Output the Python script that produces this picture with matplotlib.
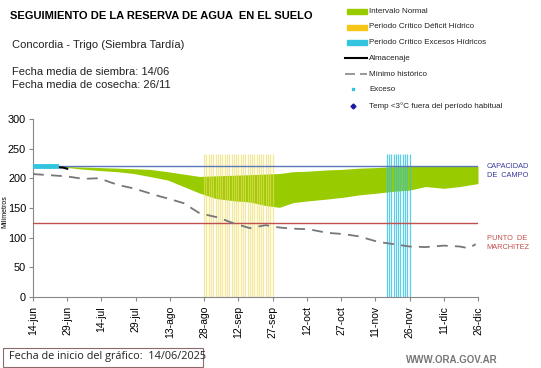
import matplotlib
matplotlib.use("Agg")
import matplotlib.pyplot as plt
from matplotlib.lines import Line2D
from matplotlib.patches import Rectangle

plt.rcParams["font.family"] = ["Liberation Sans", "DejaVu Sans"]

# ----------------------------
# Data (days since 14-jun)
# ----------------------------
tick_days = list(range(0, 196, 15))
tick_labels = ["14-jun", "29-jun", "14-jul", "29-jul", "13-ago", "28-ago", "12-sep",
               "27-sep", "12-oct", "27-oct", "11-nov", "26-nov", "11-dic", "26-dic"]

band_days = [13, 20, 29, 37, 44, 51, 59, 66, 73, 80, 88, 95, 102, 108, 114, 121,
             129, 136, 143, 151, 158, 165, 172, 180, 187, 195]
band_upper = [220, 219, 218, 217, 216, 215, 211, 207, 203, 204, 205, 206, 207, 208,
              211, 212, 214, 215, 217, 218, 219.5, 220, 220, 220, 220, 220]
band_lower = [219, 216, 213, 211, 208, 203, 197, 186, 175, 166, 162, 160, 154, 151,
              159, 162, 165, 168, 172, 175, 178, 180, 186, 183, 186, 191]

min_days = [0, 8, 15, 22, 29, 34, 38, 44, 50, 56, 59, 66, 73, 81, 88, 95, 102, 108,
            114, 121, 129, 136, 143, 151, 158, 165, 172, 180, 187, 191, 194]
min_hist = [207, 205, 203, 199, 200, 193, 188, 183, 176, 169, 166, 158, 141, 134,
            124, 116, 121, 117, 115, 114, 108, 106, 102, 93, 89, 85, 84, 86.5, 85, 82, 89]

alm_days = [0, 5, 10, 11, 12, 13, 14, 15]
almacenaje = [220, 220, 220, 219, 218, 218, 217, 216]
exceso_days = [0, 2, 4, 6, 8, 10]
exceso = [220, 220, 220, 220, 220, 220]

deficit_days = list(range(75, 106))
excesos_crit_days = list(range(155, 166))
crit_height = 240

capacidad = 220
marchitez = 125

# ----------------------------
# Figure
# ----------------------------
fig = plt.figure(figsize=(5.41, 3.68), dpi=100)
ax = fig.add_axes([0.061, 0.193, 0.8225, 0.484])

ax.fill_between(band_days, band_lower, band_upper, color="#99cc00", lw=0, zorder=1)
ax.vlines(deficit_days, 0, crit_height, lw=0.9, color="#eedc60", alpha=0.65, zorder=2)
ax.vlines(excesos_crit_days, 0, crit_height, lw=0.9, color="#33c4e0", alpha=0.8, zorder=2)

ax.axhline(capacidad, color="#5a78b8", lw=1.0, zorder=3)
ax.axhline(marchitez, color="#c0504d", lw=1.0, zorder=3)

ax.plot(min_days, min_hist, color="#777777", lw=1.3, dashes=(6, 4), zorder=4)
ax.plot(alm_days, almacenaje, color="black", lw=1.5, zorder=5)
ax.plot(exceso_days, exceso, color="#33c4e0", lw=3.5, zorder=6)

ax.set_xlim(0, 195)
ax.set_ylim(0, 300)
ax.set_xticks(tick_days)
ax.set_xticklabels(tick_labels, rotation=90, fontsize=7.5)
ax.set_yticks(range(0, 301, 50))
ax.tick_params(axis="y", labelsize=7.8, length=3, pad=2, color="#888888")
ax.tick_params(axis="x", length=3, color="#888888")
for s in ["top", "right"]:
    ax.spines[s].set_visible(False)
for s in ["left", "bottom"]:
    ax.spines[s].set_color("#888888")
ax.set_ylabel("Milímetros", fontsize=5, va="center")
ax.yaxis.set_label_coords(-0.064, 0.48)

# right-side labels
ax.text(1.02, capacidad - 7, "CAPACIDAD\nDE  CAMPO", transform=ax.get_yaxis_transform(),
        fontsize=5.3, color="#3a3aa0", va="center", ha="left", linespacing=1.4)
ax.text(1.02, 91, "PUNTO  DE\nMARCHITEZ", transform=ax.get_yaxis_transform(),
        fontsize=5.3, color="#c0504d", va="center", ha="left", linespacing=1.4)

# ----------------------------
# Header text
# ----------------------------
W, H = 541, 368
def fx(px):
    return px / W
def fy(py):
    return 1 - py / H

fig.text(fx(10), fy(16), "SEGUIMIENTO DE LA RESERVA DE AGUA  EN EL SUELO",
         fontsize=8, fontweight="bold", va="center")
fig.text(fx(12), fy(45), "Concordia - Trigo (Siembra Tardía)", fontsize=8, va="center",
         color="#222222")
fig.text(fx(12), fy(72), "Fecha media de siembra: 14/06", fontsize=8, va="center",
         color="#222222")
fig.text(fx(12), fy(85), "Fecha media de cosecha: 26/11", fontsize=8, va="center",
         color="#222222")

# ----------------------------
# Legend (manual)
# ----------------------------
leg = [
    ("patch", "#99cc00", "Intervalo Normal", 11.7),
    ("patch", "#f5c518", "Periodo Crítico Déficit Hídrico", 27),
    ("patch", "#33c4e0", "Periodo Crítico Excesos Hídricos", 42.7),
    ("line", "black", "Almacenaje", 58.3),
    ("dash", "#888888", "Mínimo histórico", 74),
    ("dot", "#33c4e0", "Exceso", 89.3),
    ("diamond", "#1a1aa0", "Temp <3°C fuera del período habitual", 106),
]
for kind, col, label, y in leg:
    if kind == "patch":
        fig.add_artist(Rectangle((fx(347), fy(y) - 2.5 / H), 20 / W, 5 / H,
                                 color=col, transform=fig.transFigure))
    elif kind == "line":
        fig.add_artist(Line2D([fx(345), fx(367)], [fy(y), fy(y)], color=col, lw=1.5))
    elif kind == "dash":
        fig.add_artist(Line2D([fx(345), fx(367)], [fy(y), fy(y)], color=col, lw=1.2,
                              dashes=(6, 3)))
    elif kind == "dot":
        fig.add_artist(Line2D([fx(353)], [fy(y)], color=col, marker="s", ms=2, lw=0))
    else:
        fig.add_artist(Line2D([fx(353)], [fy(y)], color=col, marker="D", ms=2.5, lw=0))
    fig.text(fx(369), fy(y), label, fontsize=5.8, va="center", color="#222222")

# ----------------------------
# Footer
# ----------------------------
fig.add_artist(Rectangle((fx(3), fy(367)), 200 / W, 19 / H, fill=False,
                         edgecolor="#8a6a6a", lw=0.8, transform=fig.transFigure))
fig.text(fx(9), fy(357), "Fecha de inicio del gráfico:  14/06/2025", fontsize=7.8,
         va="center", family=["Open Sans", "DejaVu Sans"], color="#222222")
fig.text(fx(498), fy(360), "WWW.ORA.GOV.AR", fontsize=7, va="center", ha="right",
         color="#777777", fontweight="bold")

fig.savefig("out.png", dpi=100)
